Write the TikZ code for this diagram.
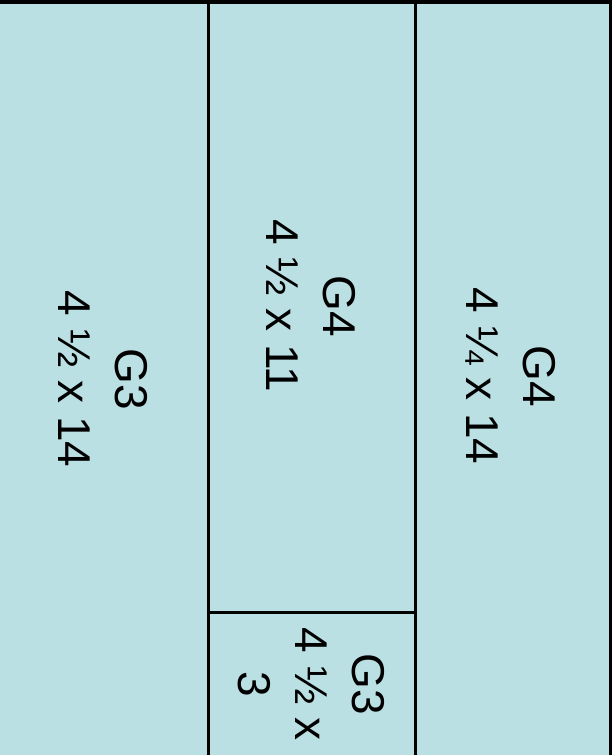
\documentclass[tikz,border=0pt]{standalone}
\usepackage{fontspec}
\setmainfont{Liberation Sans}
\definecolor{panelfill}{HTML}{BBE0E3}
\tikzset{
  panel/.style={fill=panelfill, draw=black, line width=3bp},
  label/.style={rotate=-90, align=center, inner sep=0pt,
    font=\fontsize{46bp}{57bp}\selectfont},
}
\begin{document}
\begin{tikzpicture}[x=1bp,y=-1bp]
\useasboundingbox (0,0) rectangle (613,755);
% panels
\path[panel] (-10,2) rectangle (208.3,770);
\path[panel] (208.3,2) rectangle (415.5,612);
\path[panel] (208.3,612) rectangle (415.5,770);
\path[panel] (415.5,2) rectangle (610,770);
\draw[line width=4bp] (-10,2) -- (612,2);
% labels
\node[label] (a) at (103,379) {G3\\4 ½ x 14};
\node[label] (b) at (311,306) {G4\\4 ½ x 11};
\node[label] (c) at (311,684) {G3\\4 ½ x\\3};
\node[label] (d) at (511,376) {G4\\4 ¼ x 14};
\end{tikzpicture}
\end{document}
